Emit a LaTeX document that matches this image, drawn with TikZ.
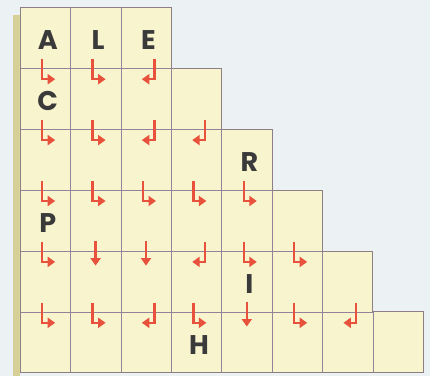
\documentclass[tikz,border=0pt]{standalone}
\usepackage{fontspec}
\usetikzlibrary{arrows.meta}
\newfontfamily\lettfont{Poppins}
\definecolor{paper}{RGB}{236,241,244}
\definecolor{cellyellow}{RGB}{247,244,206}
\definecolor{khaki}{RGB}{214,208,150}
\definecolor{gridpurple}{RGB}{150,130,152}
\definecolor{bordergray}{RGB}{140,128,132}
\definecolor{arrowred}{RGB}{232,82,60}
\definecolor{lettergray}{RGB}{58,58,58}
% arrows that sit across the line #2 in column #1
\newcommand{\arR}[2]{\draw[redarrow] (#1+0.5,#2) ++(-3pt,9pt) -- ++(0pt,-20pt) -- ++(13pt,0pt);}
\newcommand{\arL}[2]{\draw[redarrow] (#1+0.5,#2) ++(8.5pt,9pt) -- ++(0pt,-20pt) -- ++(-12.7pt,0pt);}
\newcommand{\arD}[2]{\draw[redarrow] (#1+0.5,#2) ++(0pt,9.7pt) -- ++(0pt,-24.4pt);}

\begin{document}
\begin{tikzpicture}[x=50.4pt,y=-60.9pt,
	gridline/.style={gridpurple,line width=0.5pt},
	redarrow/.style={arrowred,line width=2.3pt,-{Triangle[width=10pt,length=7.5pt]}},
	letter/.style={text=lettergray,font=\lettfont\bfseries\fontsize{27}{27}\selectfont,inner sep=0pt,xshift=2.5pt,yshift=-2.5pt}]
	\fill[paper] (-20pt,7.3pt) rectangle (410pt,-368.7pt);
	\useasboundingbox (-20pt,7.3pt) rectangle (410pt,-368.7pt);
	\fill[khaki] (-7.3pt,-7.7pt) rectangle (0pt,-368.7pt);
	\fill[cellyellow] (0,0) -| (3,1) -| (4,2) -| (5,3) -| (6,4) -| (7,5) -| (8,6) -- (0,6) -- cycle;
	\foreach \r in {1,...,5}
		\draw[gridline] (0,\r) -- (\r+2,\r);
	\foreach \c in {1,...,7}
		\draw[gridline] (\c,{max(0,\c-2)}) -- (\c,6);
	\draw[bordergray,line width=0.7pt] (0,0) -| (3,1) -| (4,2) -| (5,3) -| (6,4) -| (7,5) -| (8,6) -- (0,6) -- cycle;
	% letters
	\node[letter] (A) at (0.5,0.5) {A};
	\node[letter] (L) at (1.5,0.5) {L};
	\node[letter] (E) at (2.5,0.5) {E};
	\node[letter] (C) at (0.5,1.5) {C};
	\node[letter] (R) at (4.5,2.5) {R};
	\node[letter] (P) at (0.5,3.5) {P};
	\node[letter] (I) at (4.5,4.5) {I};
	\node[letter] (H) at (3.5,5.5) {H};
	% arrows
	\arR{0}{1} \arR{1}{1} \arL{2}{1}
	\arR{0}{2} \arR{1}{2} \arL{2}{2} \arL{3}{2}
	\arR{0}{3} \arR{1}{3} \arR{2}{3} \arR{3}{3} \arR{4}{3}
	\arR{0}{4} \arD{1}{4} \arD{2}{4} \arL{3}{4} \arR{4}{4} \arR{5}{4}
	\arR{0}{5} \arR{1}{5} \arL{2}{5} \arR{3}{5} \arD{4}{5} \arR{5}{5} \arL{6}{5}
\end{tikzpicture}
\end{document}
